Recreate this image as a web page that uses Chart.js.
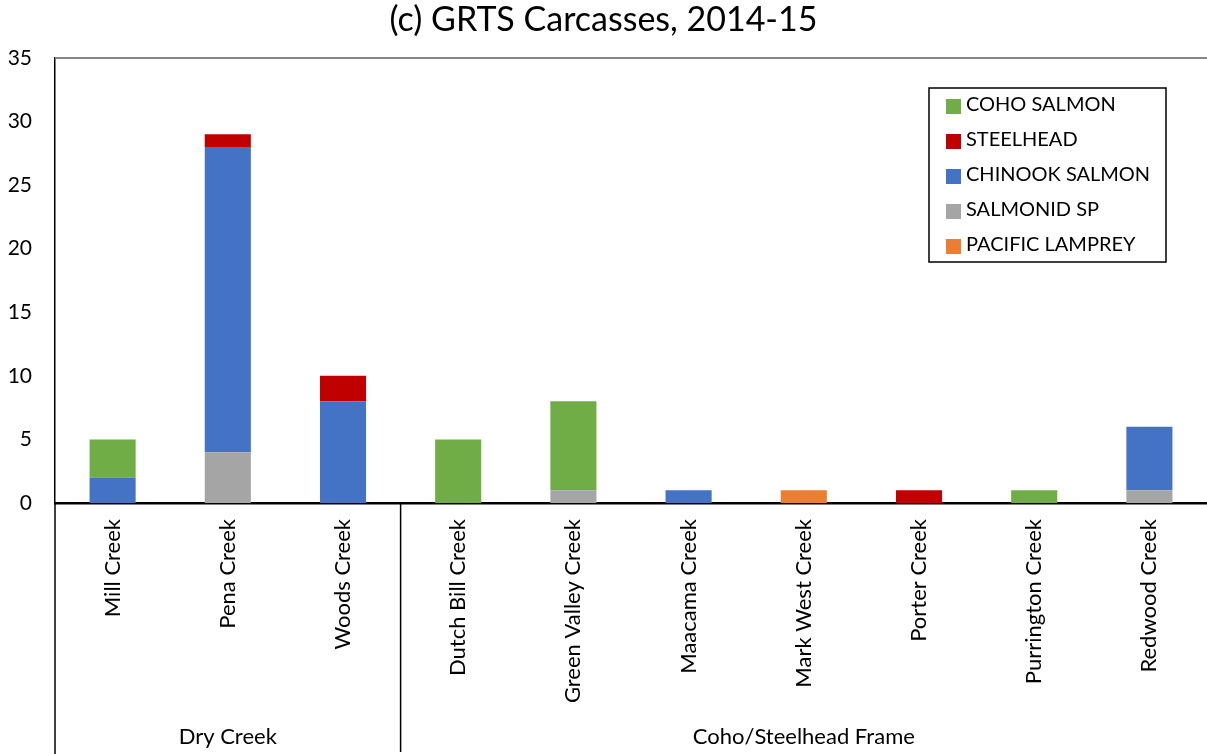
<!DOCTYPE html>
<html>
<head>
<meta charset="utf-8">
<script src="https://cdn.jsdelivr.net/npm/chart.js@4"></script>
<style>
  body { margin: 0; background: #fff; }
  #wrap { width: 1207px; height: 754px; }
</style>
</head>
<body>
<div id="wrap"><canvas id="carcassChart" width="1207" height="754"></canvas></div>
<script>
// creeks on the x axis, grouped into two frames
const categories = ["Mill Creek", "Pena Creek", "Woods Creek", "Dutch Bill Creek", "Green Valley Creek",
    "Maacama Creek", "Mark West Creek", "Porter Creek", "Purrington Creek", "Redwood Creek"];
const groupLabels = ["Dry Creek", "Coho/Steelhead Frame"];
const groupSizes = [3, 7];

// carcass counts per species (stack order bottom -> top)
const lamprey    = [0, 0, 0, 0, 0, 0, 1, 0, 0, 0];
const salmonidSp = [0, 4, 0, 0, 1, 0, 0, 0, 0, 1];
const chinook    = [2, 24, 8, 0, 0, 1, 0, 0, 0, 5];
const steelhead  = [0, 1, 2, 0, 0, 0, 0, 1, 0, 0];
const coho       = [3, 0, 0, 5, 7, 0, 0, 0, 1, 0];

// y axis
const yMin = 0;
const yMax = 35;
const yStep = 5;

const FONT = "Lato, 'Open Sans', sans-serif";

const datasets = [
    { label: "PACIFIC LAMPREY", data: lamprey, backgroundColor: "#ED7D31" },
    { label: "SALMONID SP", data: salmonidSp, backgroundColor: "#A5A5A5" },
    { label: "CHINOOK SALMON", data: chinook, backgroundColor: "#4472C4" },
    { label: "STEELHEAD", data: steelhead, backgroundColor: "#C00000" },
    { label: "COHO SALMON", data: coho, backgroundColor: "#70AD47" }
];

// extra drawing: frame line, group dividers + labels, boxed legend
const decorations = {
    id: "decorations",
    afterDraw(chart) {
        const ctx = chart.ctx;
        const area = chart.chartArea;
        const x = chart.scales.x;
        const H = chart.height;
        ctx.save();

        // top border of the plot
        ctx.strokeStyle = "#868686";
        ctx.lineWidth = 2;
        ctx.beginPath();
        ctx.moveTo(area.left, area.top);
        ctx.lineTo(area.right, area.top);
        ctx.stroke();

        // left axis continues through the label area
        ctx.strokeStyle = "#000";
        ctx.lineWidth = 1.5;
        ctx.beginPath();
        ctx.moveTo(area.left, area.bottom);
        ctx.lineTo(area.left, H);
        ctx.stroke();

        // group dividers and labels
        ctx.font = "22px " + FONT;
        ctx.fillStyle = "#000";
        ctx.textAlign = "center";
        ctx.textBaseline = "middle";
        let start = 0;
        let left = area.left;
        groupSizes.forEach((n, i) => {
            const end = start + n - 1;
            let right = area.right;
            if (i < groupSizes.length - 1) {
                right = (x.getPixelForValue(end) + x.getPixelForValue(end + 1)) / 2;
                ctx.beginPath();
                ctx.moveTo(right, area.bottom);
                ctx.lineTo(right, H - 2);
                ctx.stroke();
            }
            ctx.fillText(groupLabels[i], (left + right) / 2, 737);
            left = right;
            start += n;
        });

        // legend (reverse of stack order like excel)
        const bx = 929, by = 88, bw = 237, bh = 174;
        ctx.fillStyle = "#fff";
        ctx.fillRect(bx, by, bw, bh);
        ctx.strokeStyle = "#000";
        ctx.lineWidth = 1.5;
        ctx.strokeRect(bx, by, bw, bh);
        ctx.font = "20px " + FONT;
        ctx.textAlign = "left";
        const items = chart.data.datasets.slice().reverse();
        items.forEach((ds, i) => {
            const cy = 105 + i * 35;
            ctx.fillStyle = ds.backgroundColor;
            ctx.fillRect(946, cy - 6, 15, 15);
            ctx.fillStyle = "#000";
            ctx.fillText(ds.label, 966, cy);
        });

        ctx.restore();
    }
};

const ctx = document.getElementById("carcassChart").getContext("2d");

new Chart(ctx, {
    type: "bar",
    data: {
        labels: categories,
        datasets: datasets
    },
    options: {
        responsive: false,
        animation: false,
        layout: { padding: 0 },
        datasets: {
            bar: {
                categoryPercentage: 1,
                barPercentage: 0.4,
                borderWidth: 0
            }
        },
        plugins: {
            legend: { display: false },
            tooltip: { enabled: false },
            title: {
                display: true,
                text: "(c) GRTS Carcasses, 2014-15",
                color: "#000",
                font: { family: FONT, size: 34, weight: "normal", lineHeight: 1.2 },
                padding: { top: 0, bottom: 17.2 }
            }
        },
        scales: {
            x: {
                stacked: true,
                grid: { display: false },
                border: { display: true, color: "#000", width: 2.5 },
                ticks: {
                    color: "#000",
                    font: { family: FONT, size: 22 },
                    minRotation: 90,
                    maxRotation: 90,
                    autoSkip: false,
                    padding: 8
                },
                afterFit(scale) { scale.height = 251; }
            },
            y: {
                stacked: true,
                min: yMin,
                max: yMax,
                grid: { display: false },
                border: { display: true, color: "#000", width: 1.5 },
                ticks: {
                    stepSize: yStep,
                    color: "#000",
                    font: { family: FONT, size: 21 },
                    padding: 15
                },
                afterFit(scale) { scale.width = 55; }
            }
        }
    },
    plugins: [decorations]
});
</script>
</body>
</html>
